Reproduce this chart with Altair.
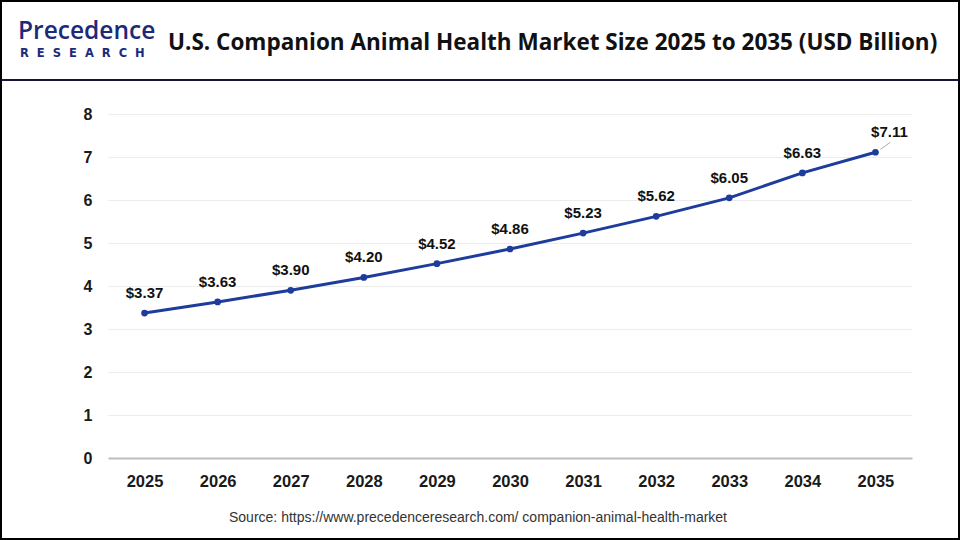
import altair as alt
import pandas as pd

years = ["2025", "2026", "2027", "2028", "2029", "2030", "2031", "2032", "2033", "2034", "2035"]
values = [3.37, 3.63, 3.90, 4.20, 4.52, 4.86, 5.23, 5.62, 6.05, 6.63, 7.11]
labels = ["$" + format(v, ".2f") for v in values]

title_text = "U.S. Companion Animal Health Market Size 2025 to 2035 (USD Billion)"
source_text = "Source: https://www.precedenceresearch.com/ companion-animal-health-market"
logo_top = "Precedence"
logo_bottom = "\u00a0\u00a0".join("RESEARCH")

df = pd.DataFrame({"year": years, "value": values, "label": labels})
one = pd.DataFrame({"a": [0]})

LINE = "#1d3c9c"
LOGO = "#1d2a7a"
W, H = 804, 344
PL, PT = 108, 114

x = alt.X("year:O", scale=alt.Scale(type="point", padding=0.5),
          axis=alt.Axis(title=None, labelAngle=0, labelFontSize=16.5, labelFontWeight="bold",
                        labelColor="#1a1a1a", labelPadding=15, ticks=False, domain=True,
                        domainColor="#bdbdbd", domainWidth=2, grid=False,
                        labelFont="Liberation Sans"))
y = alt.Y("value:Q", scale=alt.Scale(domain=[0, 8], nice=False),
          axis=alt.Axis(title=None, values=list(range(9)), labelFontSize=16, labelFontWeight="bold",
                        labelColor="#1a1a1a", labelPadding=16, ticks=False, domain=False,
                        gridColor="#ececec", gridWidth=1, labelFont="Liberation Sans"))

base = alt.Chart(df)
line = base.mark_line(color=LINE, strokeWidth=3).encode(x=x, y=y)
pts = base.mark_point(color=LINE, filled=True, size=45, opacity=1).encode(x=x, y=y)
txt = base.transform_filter(alt.datum.year != "2035").mark_text(
    fontSize=15, fontWeight="bold", color="#111", dy=-20, font="Liberation Sans"
).encode(x=x, y=y, text="label:N")
txt_last = base.transform_filter(alt.datum.year == "2035").mark_text(
    fontSize=15, fontWeight="bold", color="#111", dx=14, dy=-20, font="Liberation Sans"
).encode(x=x, y=y, text="label:N")
leader = base.transform_filter(alt.datum.year == "2035").mark_rule(
    color="#aaaaaa", strokeWidth=1, xOffset=5, x2Offset=15, yOffset=-3, y2Offset=-10
).encode(x=x, x2="year:O", y=y, y2="value:Q")

# frame and header
border = alt.Chart(one).mark_rect(fill=None, stroke="#000", strokeWidth=2).encode(
    x=alt.value(-PL + 1), x2=alt.value(960 - PL - 1), y=alt.value(-PT + 1), y2=alt.value(540 - PT - 1))
header_line = alt.Chart(one).mark_rule(color="#14143c", strokeWidth=2).encode(
    x=alt.value(-PL + 1), x2=alt.value(960 - PL - 1), y=alt.value(80 - PT))
title = alt.Chart(one).mark_text(fontSize=22.5, fontWeight="bold", color="#111", align="left",
                                  baseline="middle", font="Open Sans").encode(
    x=alt.value(168 - PL), y=alt.value(43 - PT), text=alt.value(title_text))
logo1 = alt.Chart(one).mark_text(fontSize=24.5, fontWeight=600, color=LOGO, align="left",
                                  baseline="alphabetic", font="Open Sans").encode(
    x=alt.value(18 - PL), y=alt.value(39 - PT), text=alt.value(logo_top))
logo2 = alt.Chart(one).mark_text(fontSize=11.5, fontWeight="bold", color=LOGO, align="left",
                                  baseline="alphabetic", font="DejaVu Sans").encode(
    x=alt.value(20 - PL), y=alt.value(57 - PT), text=alt.value(logo_bottom))
source = alt.Chart(one).mark_text(fontSize=14, color="#333", align="center",
                                   baseline="middle", font="Liberation Sans").encode(
    x=alt.value(478 - PL), y=alt.value(518 - PT), text=alt.value(source_text))

chart = alt.layer(line, pts, txt, txt_last, leader, border, header_line, title, logo1, logo2, source).properties(
    width=W, height=H,
    autosize=alt.AutoSizeParams(type="none"),
    padding={"left": PL, "top": PT, "right": 960 - PL - W, "bottom": 540 - PT - H},
    background="white",
).configure_view(stroke=None)

chart.save("out.html", embed_options={"renderer": "svg", "actions": False})
